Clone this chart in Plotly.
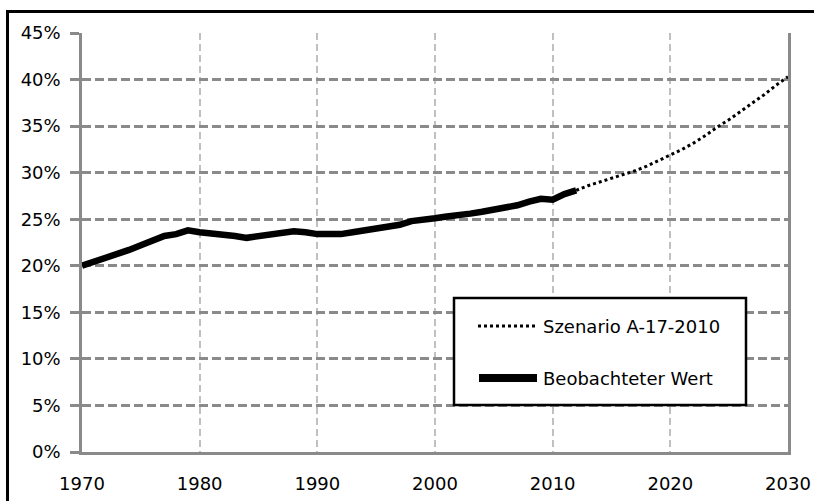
import plotly.graph_objects as go

# ---- data ----
years_obs = list(range(1970, 2013))
obs_pct = [20.0, 20.4, 20.8, 21.2, 21.7, 22.2, 22.7, 23.2, 23.4, 23.8,
           23.6, 23.5, 23.4, 23.2, 23.0, 23.2, 23.4, 23.5, 23.7, 23.6,
           23.4, 23.4, 23.4, 23.6, 23.8, 24.0, 24.2, 24.4, 24.8, 24.9,
           25.1, 25.3, 25.4, 25.6, 25.8, 26.0, 26.3, 26.5, 26.9, 27.2,
           27.1, 27.7, 28.1]
years_scn = list(range(2012, 2031))
scn_pct = [28.1, 28.6, 29.0, 29.4, 29.8, 30.2, 30.7, 31.3, 31.9, 32.5,
           33.2, 34.0, 34.9, 35.7, 36.6, 37.5, 38.4, 39.4, 40.3]
name_scn = "Szenario A-17-2010"
name_obs = "Beobachteter Wert"
x_labels = [1970, 1980, 1990, 2000, 2010, 2020, 2030]
x_major_ticks = [1970, 1990, 2010, 2030]

obs = [v / 100 for v in obs_pct]
scn = [v / 100 for v in scn_pct]

W, H = 814, 501
L, R, T, B = 82, 26, 33, 49
PW, PH = W - L - R, H - T - B


def px_x(px):
    return (px - L) / PW


def px_y(py):
    return (H - B - py) / PH


FONT = "DejaVu Sans"
GRID_H = "#8a8a8a"
GRID_V = "#c0c0c0"

fig = go.Figure()
fig.add_trace(go.Scatter(x=years_scn, y=scn, mode="lines", name=name_scn,
                         line=dict(color="black", width=3, dash="dot"),
                         showlegend=False))
fig.add_trace(go.Scatter(x=years_obs, y=obs, mode="lines", name=name_obs,
                         line=dict(color="black", width=6.5),
                         showlegend=False))

fig.update_layout(
    width=W, height=H, autosize=False,
    margin=dict(l=L, r=R, t=T, b=B, pad=0, autoexpand=False),
    paper_bgcolor="white", plot_bgcolor="white",
    font=dict(family=FONT, size=18, color="black"),
    xaxis=dict(range=[1970, 2030], tickvals=x_labels, ticktext=[str(v) for v in x_labels],
               showgrid=True, gridcolor=GRID_V, gridwidth=2, griddash="7px,4px",
               showline=True, linecolor=GRID_H, linewidth=2.5, automargin=False,
               ticks="", ticklabelstandoff=14, zeroline=False),
    xaxis2=dict(range=[1970, 2030], overlaying="x", anchor="y", side="bottom",
                tickvals=x_major_ticks, ticks="outside", ticklen=7, tickwidth=2.5,
                tickcolor=GRID_H, showticklabels=False, showgrid=False, automargin=False,
                showline=False, zeroline=False),
    yaxis=dict(range=[0, 0.45], dtick=0.05, tickformat=".0%",
               showgrid=True, gridcolor=GRID_H, gridwidth=2.5, griddash="9px,4px",
               showline=True, linecolor=GRID_H, linewidth=2.5, mirror=True,
               ticks="outside", ticklen=9, tickwidth=2.5, tickcolor=GRID_H,
               ticklabelstandoff=6, zeroline=False, automargin=False),
    showlegend=False,
)

# outer frame (only top and left edges are visible in the cropped reference)
fig.add_shape(type="line", xref="paper", yref="paper",
              x0=px_x(6), x1=px_x(W), y0=px_y(11.5), y1=px_y(11.5),
              line=dict(color="black", width=3), layer="above")
fig.add_shape(type="line", xref="paper", yref="paper",
              x0=px_x(7.5), x1=px_x(7.5), y0=px_y(10), y1=px_y(H),
              line=dict(color="black", width=3), layer="above")

# legend box
fig.add_shape(type="rect", xref="paper", yref="paper",
              x0=px_x(454), x1=px_x(746), y0=px_y(405), y1=px_y(298),
              line=dict(color="black", width=2.5), fillcolor="white", layer="above")
fig.add_shape(type="line", xref="paper", yref="paper",
              x0=px_x(478), x1=px_x(537), y0=px_y(326), y1=px_y(326),
              line=dict(color="black", width=3, dash="dot"), layer="above")
fig.add_shape(type="line", xref="paper", yref="paper",
              x0=px_x(479), x1=px_x(537), y0=px_y(378), y1=px_y(378),
              line=dict(color="black", width=8), layer="above")
for name, ypx in [(name_scn, 326), (name_obs, 378)]:
    fig.add_annotation(xref="paper", yref="paper", x=px_x(541), y=px_y(ypx),
                       text=name, showarrow=False, xanchor="left", yanchor="middle",
                       font=dict(family=FONT, size=18, color="black"))

fig.write_html("out.html", config={"displayModeBar": False},
               post_script="document.body.style.margin='0';document.body.style.overflow='hidden';")
